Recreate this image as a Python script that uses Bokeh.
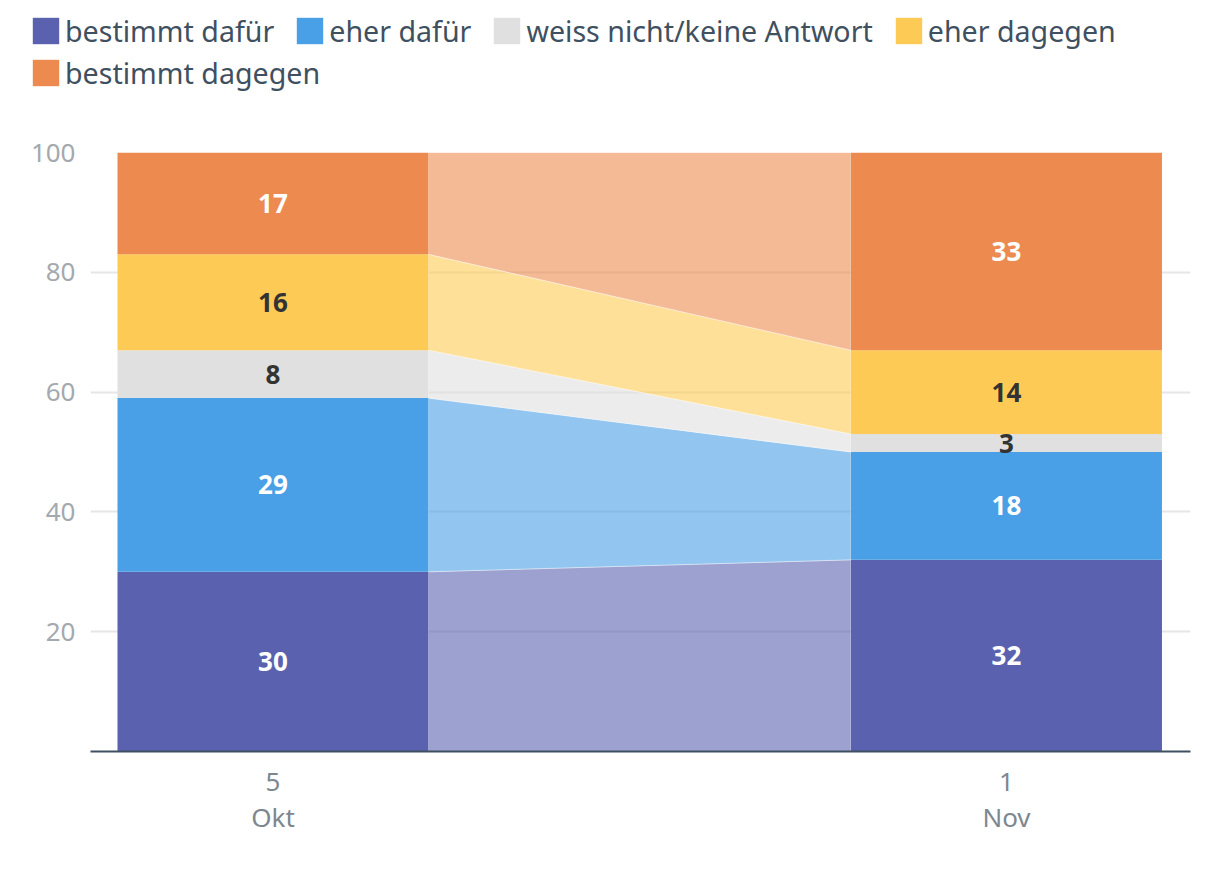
import numpy as np
from bokeh.plotting import figure
from bokeh.models import Range1d, Legend, LegendItem, FixedTicker
from bokeh.core.properties import value
from bokeh.embed import file_html
from bokeh.resources import INLINE

# ---- data ----
dates = ["5\nOkt", "1\nNov"]
series_names = ["bestimmt dafür", "eher dafür", "weiss nicht/keine Antwort", "eher dagegen", "bestimmt dagegen"]
okt_values = [30, 29, 8, 16, 17]
nov_values = [32, 18, 3, 14, 33]
colors = ["#5a62b0", "#4aa0e6", "#e0e0e0", "#fdcb55", "#ec8a4f"]
label_colors = ["white", "white", "#333333", "#333333", "white"]
y_ticks = [20, 40, 60, 80, 100]

FONT = "Noto Sans"
W = 0.424
LEG_H = 110

# ---------- main chart ----------
p = figure(width=1204, height=880 - LEG_H, output_backend="svg", toolbar_location=None,
           x_range=Range1d(-0.2488, 1.2509), y_range=Range1d(0, 100),
           min_border_left=90, min_border_right=14, min_border_top=152 - LEG_H, min_border_bottom=129)
p.outline_line_color = None
p.background_fill_color = "white"

vals = np.array([okt_values, nov_values], dtype=float)  # shape (2, 5)
tops = np.cumsum(vals, axis=1)
bots = tops - vals
xs = np.array([0.0, 1.0])

for i, name in enumerate(series_names):
    # connecting area between the two columns
    p.patch(x=[xs[0] + W / 2, xs[1] - W / 2, xs[1] - W / 2, xs[0] + W / 2],
            y=[bots[0, i], bots[1, i], tops[1, i], tops[0, i]],
            fill_color=colors[i], fill_alpha=0.6, line_color="white", line_alpha=0.4, line_width=1)
    p.vbar(x=xs, bottom=bots[:, i], top=tops[:, i], width=W,
           fill_color=colors[i], line_color=None)
    p.text(x=xs, y=(bots[:, i] + tops[:, i]) / 2, text=[str(int(v)) for v in vals[:, i]],
           text_align="center", text_baseline="middle", text_color=label_colors[i],
           text_font=value(FONT), text_font_style="bold", text_font_size="26px")

p.yaxis.ticker = FixedTicker(ticks=y_ticks)
p.yaxis.axis_line_color = None
p.yaxis.major_tick_line_color = None
p.yaxis.major_tick_out = 0
p.yaxis.minor_tick_line_color = None
p.yaxis.major_label_text_color = "#a3a9ae"
p.yaxis.major_label_text_font = FONT
p.yaxis.major_label_text_font_size = "26px"
p.yaxis.major_label_standoff = 15

p.xaxis.ticker = FixedTicker(ticks=[0, 1])
p.xaxis.major_label_overrides = {0: dates[0], 1: dates[1]}
p.xaxis.axis_line_color = "#3f5060"
p.xaxis.axis_line_width = 2
p.xaxis.major_tick_line_color = None
p.xaxis.major_tick_out = 0
p.xaxis.minor_tick_line_color = None
p.xaxis.major_label_text_color = "#7d878f"
p.xaxis.major_label_text_font = FONT
p.xaxis.major_label_text_font_size = "26px"
p.xaxis.major_label_text_line_height = 1.0
p.xaxis.major_label_standoff = 11

p.xgrid.grid_line_color = None
p.ygrid.grid_line_color = "#e6e6e6"
p.ygrid.grid_line_width = 2

# ---------- legend strip (separate root, so its frame is not aligned with the chart) ----------
lf = figure(width=1204, height=LEG_H, output_backend="svg", toolbar_location=None,
            x_axis_type=None, y_axis_type=None, x_range=Range1d(0, 1), y_range=Range1d(0, 1),
            min_border=0)
lf.outline_line_color = None
lf.xgrid.visible = False
lf.ygrid.visible = False
# zero-size proxy glyphs that only carry the legend colours
leg_renderers = [lf.vbar(x=[0], top=[0], bottom=[0], width=0, fill_color=c, line_color=None) for c in colors]

def make_legend(idx, loc):
    return Legend(items=[LegendItem(label=series_names[i], renderers=[leg_renderers[i]]) for i in idx],
                  location=loc, orientation="horizontal",
                  border_line_color=None, background_fill_alpha=0,
                  padding=0, margin=0, spacing=19, label_standoff=3,
                  glyph_width=33, glyph_height=33, label_height=33,
                  label_text_font=FONT, label_text_font_size="28.6px", label_text_color="#3f5060")

lf.add_layout(make_legend([0, 1, 2, 3], (29, LEG_H - 50)), "center")
lf.add_layout(make_legend([4], (29, LEG_H - 92)), "center")

open("out.html", "w").write(file_html([lf, p], INLINE))
